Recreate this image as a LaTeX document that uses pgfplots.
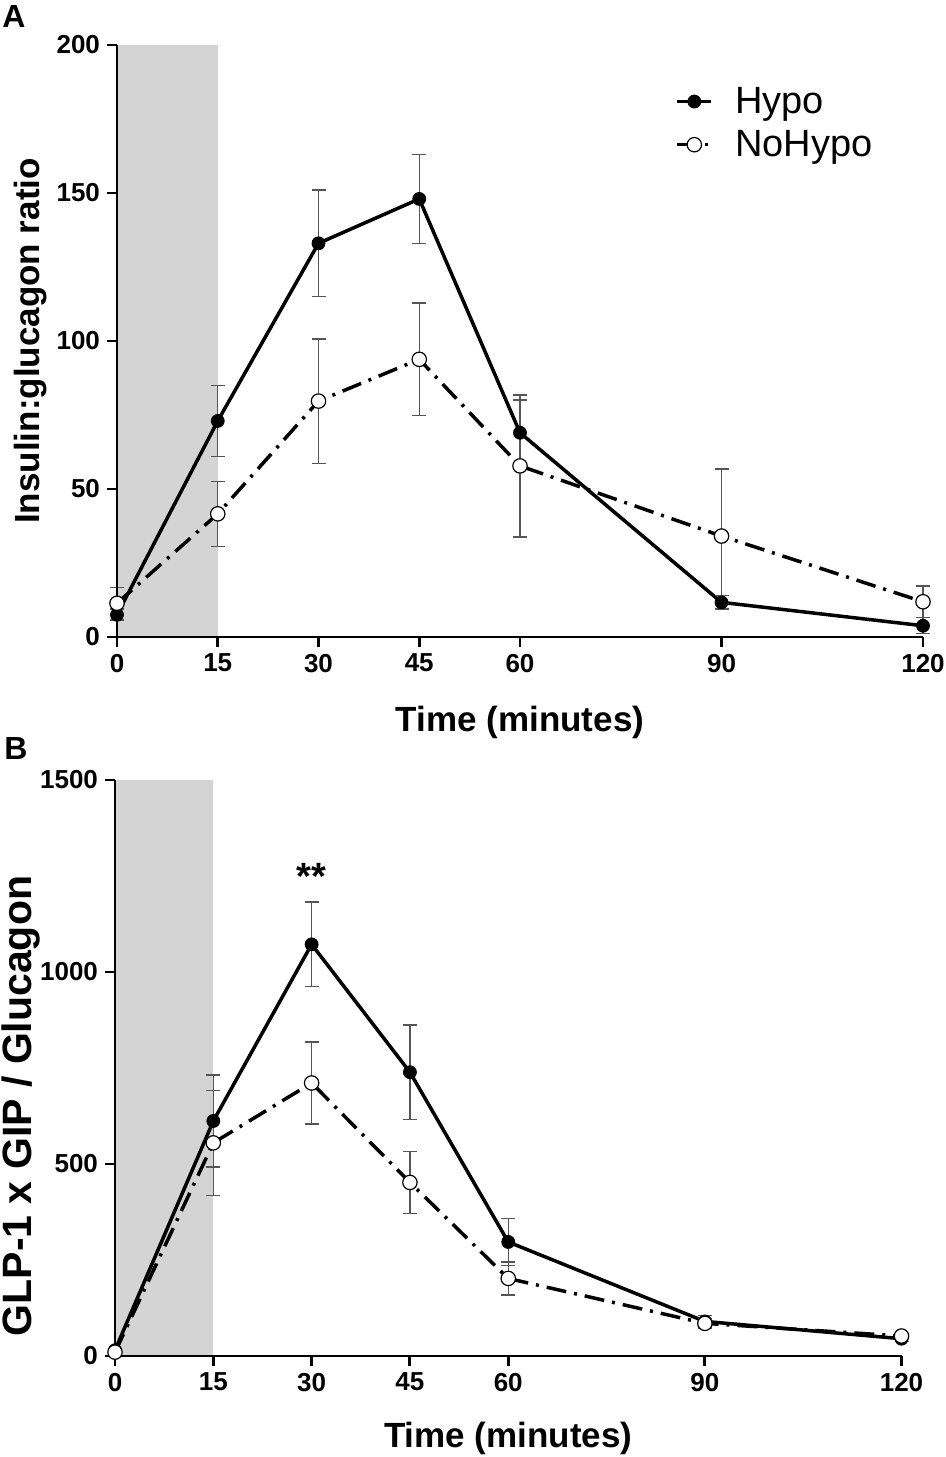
\documentclass[border=0pt]{standalone}
\usepackage{pgfplots}
\usepackage{pgfplotstable}
\pgfplotsset{compat=1.18}
\usepackage{fontspec}
\setmainfont{Liberation Sans}
\definecolor{shade}{RGB}{212,212,212}
\definecolor{errc}{RGB}{85,85,85}

\pgfplotstableread{
x y e
0 7.5 2
15 73 12
30 133 18
45 148 15
60 69 11
90 11.7 2.3
120 3.8 2.7
}\hypoA
\pgfplotstableread{
x y e
0 11.4 5.4
15 41.6 11
30 79.7 21
45 93.8 19
60 57.8 24
90 34.1 22.7
120 11.9 5.3
}\nohypoA
\pgfplotstableread{
x y e
0 15 5
15 612 120
30 1072 110
45 739 123
60 297 61
90 90 15
120 45 8
}\hypoB
\pgfplotstableread{
x y e
0 10 4
15 555 137
30 711 107
45 452 81
60 202 43
90 85 12
120 52 6
}\nohypoB

\pgfplotsset{
  mystyle/.style={
    scale only axis,
    axis lines=left,
    axis line style={-, line width=1.45pt},
    tick style={line width=1.45pt, black},
    major tick length=5pt,
    tick align=outside,
    xmin=0, xmax=120,
    xtick={0,15,30,45,60,90,120},
    ticklabel style={font=\fontsize{13}{15}\selectfont\bfseries},
    /pgf/number format/assume math mode=true,
    /pgf/number format/1000 sep={},
    clip=false,
    axis on top,
    label style={font=\fontsize{17.5}{20}\selectfont\bfseries},
    xlabel style={at={(axis description cs:0.5,-0.1436)}, anchor=center},
  },
  hypo/.style={black, line width=1.75pt, mark=*, mark size=3.2pt, mark options={solid, fill=black, line width=0.5pt}},
  nohypo/.style={black, line width=1.75pt, dash pattern=on 10pt off 4pt on 1.5pt off 4pt, mark=*, mark size=3.6pt, mark options={solid, fill=white, draw=black, line width=0.6pt}},
  myerr/.style={error bars/.cd, y dir=both, y explicit,
     error bar style={errc, line width=0.7pt, solid},
     error mark options={rotate=90, errc, mark size=3.5pt, line width=0.7pt, solid}},
}

\begin{document}
\begin{tikzpicture}[x=1pt,y=1pt]

\begin{axis}[mystyle,
  at={(58.5pt,410pt)}, anchor=south west,
  width=403pt, height=296pt,
  ymin=0, ymax=200, ytick={0,50,100,150,200},
  xlabel={Time (minutes)},
  ylabel={Insulin:glucagon ratio},
  ylabel style={at={(axis description cs:-0.1067,0.5)}, anchor=center},
  legend style={at={(axis description cs:0.685,0.868)}, anchor=west, draw=none, fill=none,
     font=\fontsize{19}{22}\selectfont, row sep=3pt},
  legend cell align=left,
]
\addplot[fill=shade, draw=none, forget plot] coordinates {(0,200) (15,200)} \closedcycle;
\addplot[hypo, myerr] table[x=x, y=y, y error=e] {\hypoA};
\addlegendentry{\hspace{9pt}Hypo}
\addplot[nohypo, myerr] table[x=x, y=y, y error=e] {\nohypoA};
\addlegendentry{\hspace{9pt}NoHypo}
\end{axis}

\begin{axis}[mystyle,
  at={(57.5pt,50.5pt)}, anchor=south west,
  width=393.25pt, height=288pt,
  ymin=0, ymax=1500, ytick={0,500,1000,1500},
  xlabel={Time (minutes)},
  ylabel={GLP-1 x GIP / Glucagon},
  ylabel style={at={(axis description cs:-0.1195,0.434)}, anchor=center, font=\fontsize{20.5}{24}\selectfont\bfseries},
]
\addplot[fill=shade, draw=none, forget plot] coordinates {(0,1500) (15,1500)} \closedcycle;
\addplot[hypo, myerr] table[x=x, y=y, y error=e] {\hypoB};
\addplot[nohypo, myerr] table[x=x, y=y, y error=e] {\nohypoB};
\node[font=\fontsize{19}{22}\selectfont\bfseries] at (axis cs:30,1250) {**};
\end{axis}

\node[anchor=north west, inner sep=0pt, font=\fontsize{16}{18}\selectfont\bfseries] at (1pt,726pt) {A};
\node[anchor=north west, inner sep=0pt, font=\fontsize{16}{18}\selectfont\bfseries] at (2pt,360pt) {B};
\pgfresetboundingbox
\useasboundingbox (0pt,0pt) rectangle (473pt,728.5pt);
\end{tikzpicture}
\end{document}
